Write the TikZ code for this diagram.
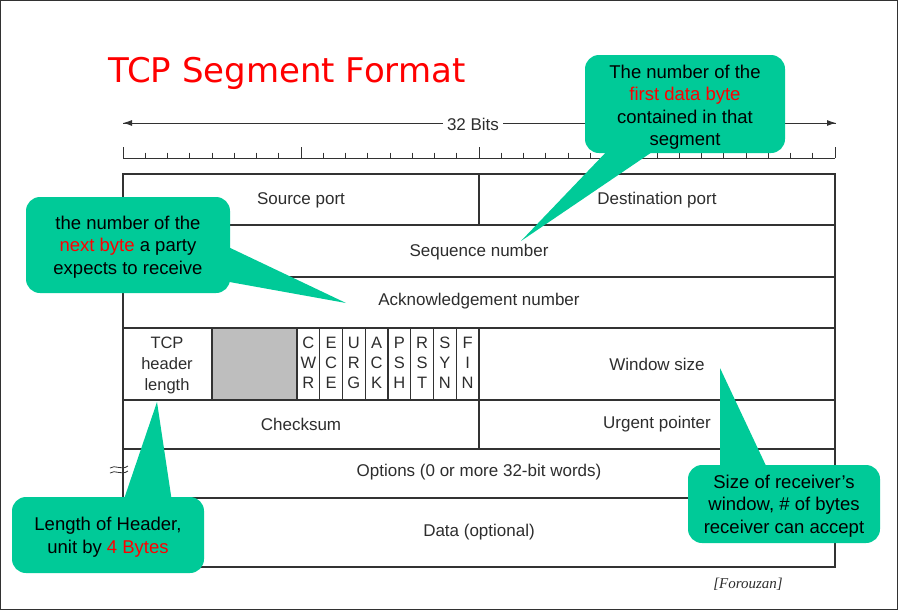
\documentclass[tikz,border=0pt]{standalone}
\usepackage{fontspec}
\setmainfont{Liberation Sans}
\newfontfamily\titlefont{DejaVu Sans}
\newfontfamily\citefont{Liberation Serif}
\usetikzlibrary{arrows.meta}
\definecolor{callgreen}{RGB}{0,202,152}
\definecolor{tline}{RGB}{50,50,50}
\definecolor{ttext}{RGB}{45,45,45}
\definecolor{hlred}{RGB}{255,0,0}
\definecolor{rsvgray}{RGB}{190,190,190}
\tikzset{
  frameline/.style={draw=tline, line width=1.2pt},
  tableline/.style={draw=tline, line width=1.4pt},
  rulerline/.style={draw=tline, line width=0.9pt},
  fieldtext/.style={text=ttext, font=\fontsize{17}{20}\selectfont, inner sep=0pt},
  flagtext/.style={text=ttext, font=\fontsize{16.5}{19}\selectfont, inner sep=0pt},
  calloutbox/.style={fill=callgreen, draw=none, rounded corners=14pt},
  calloutptr/.style={fill=callgreen, draw=none},
  callouttext/.style={text=black, font=\fontsize{18.5}{22.5}\selectfont, align=center, inner sep=0pt},
}
\begin{document}
\begin{tikzpicture}[x=1pt,y=-1pt]
\useasboundingbox (0,0) rectangle (900,611);
\draw[frameline] (0.6,0.6) rectangle (897.6,609.6);

% title
\node[anchor=base west, text=red, inner sep=0pt, font=\titlefont\fontsize{34}{40}\selectfont] (title) at (108,82) {TCP Segment Format};

% 32 bits arrow
\coordinate (arrL) at (123,123);
\coordinate (arrR) at (836,123);
\draw[rulerline, -{Latex[length=9pt,width=6pt]}] (arrL) -- (arrR);
\draw[rulerline, -{Latex[length=9pt,width=6pt]}] (arrR) -- (arrL);
\node[fieldtext, fill=white, inner xsep=4pt, inner ysep=2pt] (bits) at (473,124) {32 Bits};

% ruler
\coordinate (rulL) at (123,158);
\coordinate (rulR) at (835,158);
\draw[rulerline] (rulL) -- (rulR);
\foreach \i in {0,...,32}{
  \pgfmathsetmacro{\xx}{123+\i*22.25}
  \pgfmathtruncatemacro{\m}{mod(\i,8)}
  \ifnum\m=0
    \draw[rulerline] (\xx,147) -- (\xx,158);
  \else
    \draw[rulerline] (\xx,152.5) -- (\xx,158);
  \fi
}

% table
\fill[rsvgray] (212,328) rectangle (297,400);
\draw[tableline] (123,174) rectangle (835,567);
\foreach \yy in {225,277,328,400,449,498}{
  \draw[tableline] (123,\yy) -- (835,\yy);
}
\draw[tableline] (479,174) -- (479,225);
\draw[tableline] (479,328) -- (479,449);
\draw[tableline] (212,328) -- (212,400);
\foreach \i in {0,...,7}{
  \draw[tableline] ({297+\i*22.75},328) -- ({297+\i*22.75},400);
}

% break mark on options row
\draw[tline, line width=0.8pt] (110,468) .. controls (115,464) and (121,471) .. (128,466);
\draw[tline, line width=0.8pt] (110,473) .. controls (115,469) and (121,476) .. (128,471);

% field labels
\node[fieldtext] (srcport) at (301,200) {Source port};
\node[fieldtext] (dstport) at (657,200) {Destination port};
\node[fieldtext] (seqnum) at (479,252) {Sequence number};
\node[fieldtext] (acknum) at (479,301) {Acknowledgement number};
\node[fieldtext, align=center, font=\fontsize{16.5}{21}\selectfont] (hlen) at (167,365) {TCP\\header\\length};
\node[fieldtext] (window) at (657,364) {Window size};
\node[fieldtext] (checksum) at (301,424) {Checksum};
\node[fieldtext] (urgent) at (657,424) {Urgent pointer};
\node[fieldtext] (options) at (479,472) {Options (0 or more 32-bit words)};
\node[fieldtext] (data) at (479,532) {Data (optional)};

% flags
\foreach \a/\b/\c [count=\k from 0] in {C/W/R, E/C/E, U/R/G, A/C/K, P/S/H, R/S/T, S/Y/N, F/I/N}{
  \pgfmathsetmacro{\fx}{297+(\k+0.5)*22.75}
  \node[flagtext] (flag\k a) at (\fx,343) {\a};
  \node[flagtext] (flag\k b) at (\fx,363) {\b};
  \node[flagtext] (flag\k c) at (\fx,383) {\c};
}

% callout 1: sequence number
\coordinate (tip1) at (521,241);
\fill[calloutbox] (585,55) rectangle (785,153);
\fill[calloutptr] (610,148) -- (658,148) -- (tip1) -- cycle;
\node[callouttext] (c1) at (685,107) {The number of the\\\textcolor{hlred}{first data byte}\\contained in that\\segment};

% callout 2: acknowledgement number
\coordinate (tip2) at (346,303);
\fill[calloutbox] (26,197) rectangle (230,293);
\fill[calloutptr] (224,245) -- (224,281) -- (tip2) -- cycle;
\node[callouttext] (c2) at (128,247) {the number of the\\\textcolor{hlred}{next byte} a party\\expects to receive};

% callout 3: header length
\coordinate (tip3) at (157,402);
\fill[calloutbox] (12,497) rectangle (204,573);
\fill[calloutptr] (123,502) -- (172,502) -- (tip3) -- cycle;
\node[callouttext] (c3) at (108,537) {Length of Header,\\unit by \textcolor{hlred}{4 Bytes}};

% callout 4: window size
\coordinate (tip4) at (720,368);
\fill[calloutbox] (688,465) rectangle (880,543);
\fill[calloutptr] (720,470) -- (768,470) -- (tip4) -- cycle;
\node[callouttext] (c4) at (784,506) {Size of receiver’s\\window, \# of bytes\\receiver can accept};

% citation
\node[text=ttext, inner sep=0pt, font=\citefont\itshape\fontsize{15}{17}\selectfont] (cite) at (748,584) {[Forouzan]};
\end{tikzpicture}
\end{document}
